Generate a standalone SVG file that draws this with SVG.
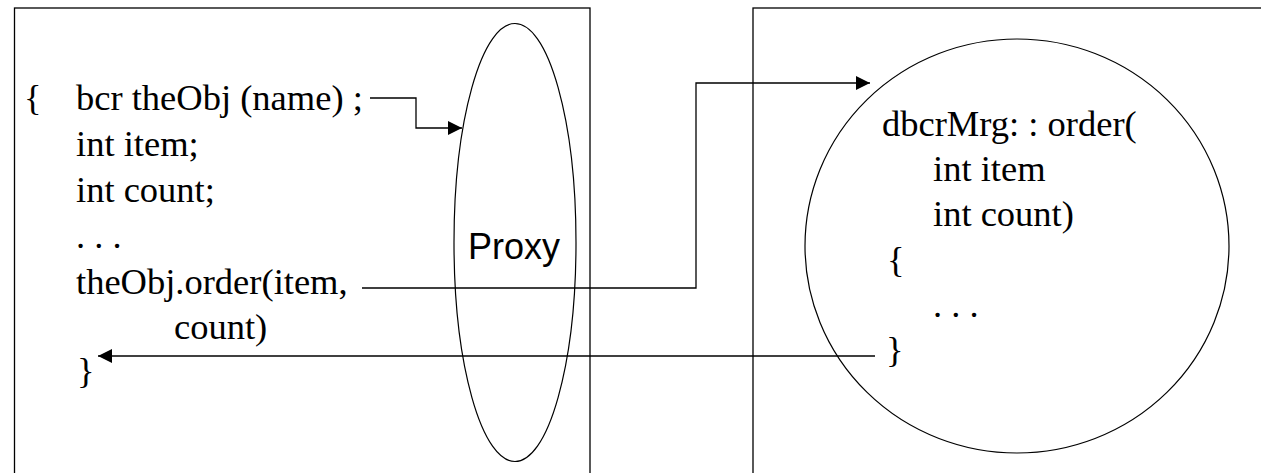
<svg xmlns="http://www.w3.org/2000/svg" width="1261" height="473" viewBox="0 0 1261 473">
<style>
.frame{fill:none;stroke:#000;stroke-width:1.3}
.shape{fill:none;stroke:#000;stroke-width:1.2}
.code{font-family:"Liberation Serif","Times New Roman",serif;font-size:36.5px;fill:#000}
.sans{font-family:"Liberation Sans",Arial,sans-serif;font-size:36px;fill:#000}
.conn{fill:none;stroke:#000;stroke-width:1.3}
</style>
<defs>
<marker id="arrow" markerWidth="15" markerHeight="15" refX="14" refY="7" orient="auto" markerUnits="userSpaceOnUse">
<path d="M0,0 L14,7 L0,14 Z" fill="#000"/>
</marker>
</defs>
<rect width="1261" height="473" fill="#fff"/>
<g id="client">
<rect class="frame" x="14.5" y="8" width="575.5" height="480"/>
<text class="code" x="24" y="110">{</text>
<text class="code" x="76" y="110">bcr theObj (name) ;</text>
<text class="code" x="76" y="156">int item;</text>
<text class="code" x="76" y="202">int count;</text>
<text class="code" x="76" y="248">. . .</text>
<text class="code" x="76" y="294">theObj.order(item,</text>
<text class="code" x="174" y="339">count)</text>
<text class="code" x="77" y="383">}</text>
</g>
<g id="proxy">
<ellipse class="shape" cx="515" cy="242.5" rx="61" ry="219"/>
<text class="sans" x="468" y="259">Proxy</text>
</g>
<g id="server">
<rect class="frame" x="753" y="8" width="520" height="480"/>
<ellipse class="shape" cx="1017" cy="246" rx="212" ry="207"/>
<text class="code" x="882" y="136">dbcrMrg: : order(</text>
<text class="code" x="933" y="181">int item</text>
<text class="code" x="933" y="226">int count)</text>
<text class="code" x="887" y="272">{</text>
<text class="code" x="933" y="317">. . .</text>
<text class="code" x="886" y="362">}</text>
</g>
<g id="connectors">
<polyline class="conn" points="370,98 416,98 416,128 462,128" marker-end="url(#arrow)"/>
<polyline class="conn" points="362,288 696,288 696,83 870,83" marker-end="url(#arrow)"/>
<polyline class="conn" points="875,356 98,356" marker-end="url(#arrow)"/>
</g>
</svg>
